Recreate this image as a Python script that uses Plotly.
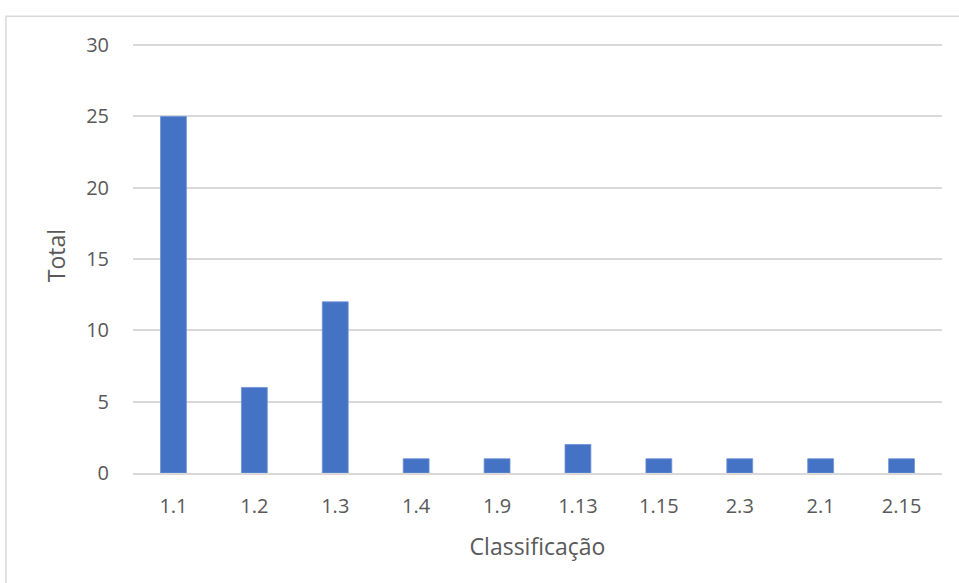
import plotly.graph_objects as go

categories = ["1.1", "1.2", "1.3", "1.4", "1.9", "1.13", "1.15", "2.3", "2.1", "2.15"]
totals = [25, 6, 12, 1, 1, 2, 1, 1, 1, 1]
y_ticks = [0, 5, 10, 15, 20, 25, 30]

BAR = "#4472C4"
GRID = "#D9D9D9"
TEXT = "#595959"
FONT = "Open Sans"

fig = go.Figure(
    go.Bar(
        x=categories,
        y=totals,
        marker=dict(color=BAR, line=dict(color="#6E93D6", width=0.8)),
    )
)

fig.update_layout(
    width=959,
    height=583,
    margin=dict(l=133, r=17, t=38, b=110),
    paper_bgcolor="white",
    plot_bgcolor="white",
    bargap=0.68,
    showlegend=False,
    font=dict(family=FONT, color=TEXT, size=20),
    shapes=[
        dict(
            type="rect", xref="paper", yref="paper",
            x0=-0.157, x1=1.2, y0=-0.4, y1=1.05,
            line=dict(color=GRID, width=1.5), layer="below",
        )
    ],
)

fig.update_xaxes(
    type="category",
    showgrid=False,
    showline=True,
    linecolor=GRID,
    linewidth=2,
    ticks="outside",
    ticklen=14,
    tickcolor="rgba(0,0,0,0)",
    tickfont=dict(size=20, color=TEXT),
    title=dict(text="Classificação", font=dict(size=23, color=TEXT), standoff=21),
)

fig.update_yaxes(
    range=[0, 30.5],
    tickvals=y_ticks,
    showgrid=True,
    gridcolor=GRID,
    gridwidth=1.5,
    zeroline=False,
    showline=False,
    ticks="outside",
    ticklen=19,
    tickcolor="rgba(0,0,0,0)",
    tickfont=dict(size=20, color=TEXT),
    title=dict(text="Total", font=dict(size=23, color=TEXT), standoff=14),
)

fig.write_html("out.html")
